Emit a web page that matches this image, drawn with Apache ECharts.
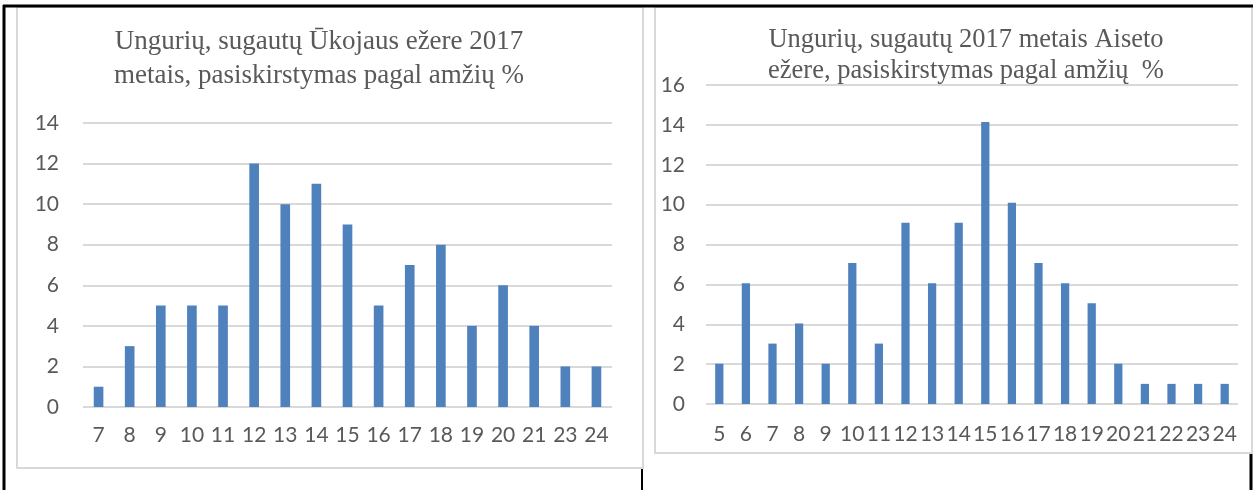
<!DOCTYPE html>
<html>
<head>
<meta charset="utf-8">
<script src="https://cdn.jsdelivr.net/npm/echarts@6/dist/echarts.min.js"></script>
<style>
  html, body { margin: 0; padding: 0; background: #fff; }
  #chart { width: 1257px; height: 490px; }
</style>
</head>
<body>
<div id="chart"></div>
<script>
// left chart: Ukojaus lake
const agesLeft = ["7", "8", "9", "10", "11", "12", "13", "14", "15", "16", "17", "18", "19", "20", "21", "23", "24"];
const pctLeft = [1, 3, 5, 5, 5, 12, 10, 11, 9, 5, 7, 8, 4, 6, 4, 2, 2];
// right chart: Aiseto lake
const agesRight = ["5", "6", "7", "8", "9", "10", "11", "12", "13", "14", "15", "16", "17", "18", "19", "20", "21", "22", "23", "24"];
const pctRight = [2.02, 6.06, 3.03, 4.04, 2.02, 7.07, 3.03, 9.09, 6.06, 9.09, 14.14, 10.1, 7.07, 6.06, 5.05, 2.02, 1.01, 1.01, 1.01, 1.01];

const titleLeft = "Ungurių, sugautų Ūkojaus ežere 2017\nmetais, pasiskirstymas pagal amžių %";
const titleRight = "Ungurių, sugautų 2017 metais Aiseto\nežere, pasiskirstymas pagal amžių  %";

const barColor = "#4F81BD";
const labelFont = "Lato";
const chart = echarts.init(document.getElementById("chart"));

const titleStyle = {
  fontFamily: "Liberation Serif",
  fontSize: 27,
  fontWeight: "normal",
  color: "#595959",
  lineHeight: 34,
};

const xAxisBase = {
  type: "category",
  axisLine: { show: false },
  axisTick: { show: false },
  axisLabel: { interval: 0, color: "#595959", fontFamily: labelFont, fontSize: 21, margin: 18 },
};
const yAxisBase = {
  type: "value",
  min: 0,
  interval: 2,
  axisLine: { show: false },
  axisTick: { show: false },
  axisLabel: { color: "#595959", fontFamily: labelFont, fontSize: 21, margin: 24 },
  splitLine: { lineStyle: { color: "#d9d9d9", width: 2 } },
};

// page borders
function line(x1, y1, x2, y2, color, w) {
  return { type: "line", shape: { x1, y1, x2, y2 }, style: { stroke: color, lineWidth: w }, silent: true };
}

chart.setOption({
  animation: false,
  title: [
    { text: titleLeft, left: 314, top: 20, textAlign: "center", textStyle: titleStyle },
    { text: titleRight, left: 961, top: 20, textAlign: "center", textStyle: Object.assign({}, titleStyle, { fontSize: 26.5, lineHeight: 31 }) },
  ],
  grid: [
    { left: 83, right: 645, top: 123, bottom: 83 },
    { left: 706, right: 19, top: 85, bottom: 86 },
  ],
  xAxis: [
    Object.assign({}, xAxisBase, { gridIndex: 0, data: agesLeft }),
    Object.assign({}, xAxisBase, { gridIndex: 1, data: agesRight, axisLabel: Object.assign({}, xAxisBase.axisLabel, { margin: 20 }) }),
  ],
  yAxis: [
    Object.assign({}, yAxisBase, { gridIndex: 0, max: 14 }),
    Object.assign({}, yAxisBase, { gridIndex: 1, max: 16, axisLabel: Object.assign({}, yAxisBase.axisLabel, { margin: 21 }) }),
  ],
  series: [
    { type: "bar", xAxisIndex: 0, yAxisIndex: 0, data: pctLeft, barWidth: "31%", itemStyle: { color: barColor } },
    { type: "bar", xAxisIndex: 1, yAxisIndex: 1, data: pctRight, barWidth: "31%", itemStyle: { color: barColor } },
  ],
  graphic: [
    // chart frames
    { type: "rect", shape: { x: 17, y: 7, width: 626, height: 461 }, style: { fill: "none", stroke: "#d9d9d9", lineWidth: 2 }, silent: true },
    { type: "rect", shape: { x: 655, y: 7, width: 597, height: 446 }, style: { fill: "none", stroke: "#d9d9d9", lineWidth: 2 }, silent: true },
    // table lines
    line(3, 6, 1253, 6, "#000", 3),
    line(4, 5, 4, 490, "#000", 3),
    line(642, 469, 642, 490, "#000", 2),
    line(1251, 454, 1251, 490, "#000", 3),
  ],
});
</script>
</body>
</html>
